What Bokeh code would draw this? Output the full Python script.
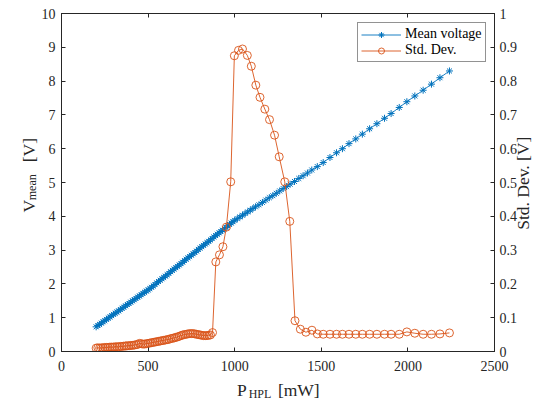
import math
from bokeh.plotting import figure
from bokeh.models import (Range1d, LinearAxis, FixedTicker, Legend, LegendItem)
from bokeh.embed import file_html
from bokeh.resources import INLINE

# ---- data ----
p_mean = [200, 210, 220, 230, 240, 250, 260, 270, 280, 290, 300, 310, 320, 330, 340, 350,
          360, 370, 380, 390, 400, 410, 420, 430, 440, 450, 460, 470, 480, 490, 500, 510,
          520, 530, 540, 550, 560, 570, 580, 590, 600, 610, 620, 630, 640, 650, 660, 670,
          680, 690, 700, 710, 720, 730, 740, 750, 760, 770, 780, 790, 800, 810, 820, 830,
          840, 850, 860, 870, 880, 890, 900, 910, 920, 930, 940, 950, 960, 970, 980, 990,
          1000, 1015, 1030, 1045, 1060, 1075, 1090, 1105, 1120, 1140, 1160, 1180, 1200,
          1220, 1240, 1260, 1280, 1300, 1320, 1345, 1370, 1395, 1420, 1445, 1477, 1511,
          1550, 1588, 1622, 1660, 1699, 1737, 1779, 1821, 1865, 1903, 1950, 1994, 2040,
          2088, 2136, 2185, 2240]
v_mean = [0.73, 0.77, 0.80, 0.84, 0.88, 0.91, 0.95, 0.99, 1.02, 1.06, 1.10, 1.13, 1.17, 1.20,
          1.24, 1.28, 1.31, 1.35, 1.39, 1.42, 1.46, 1.50, 1.53, 1.57, 1.61, 1.64, 1.68, 1.72,
          1.75, 1.79, 1.82, 1.86, 1.90, 1.94, 1.98, 2.03, 2.07, 2.11, 2.15, 2.19, 2.23, 2.27,
          2.31, 2.36, 2.40, 2.44, 2.48, 2.52, 2.56, 2.60, 2.64, 2.69, 2.73, 2.77, 2.81, 2.85,
          2.89, 2.93, 2.97, 3.02, 3.06, 3.10, 3.14, 3.18, 3.22, 3.26, 3.30, 3.34, 3.39, 3.43,
          3.47, 3.51, 3.55, 3.59, 3.63, 3.67, 3.72, 3.76, 3.80, 3.84, 3.88, 3.93, 3.98, 4.03,
          4.08, 4.13, 4.18, 4.23, 4.28, 4.34, 4.41, 4.48, 4.55, 4.61, 4.68, 4.75, 4.82, 4.88,
          4.95, 5.03, 5.12, 5.20, 5.28, 5.37, 5.47, 5.59, 5.74, 5.88, 6.00, 6.15, 6.29, 6.43,
          6.59, 6.74, 6.90, 7.04, 7.22, 7.39, 7.56, 7.73, 7.91, 8.10, 8.30]

p_std = [200, 210, 220, 230, 240, 250, 260, 270, 280, 290, 300, 310, 320, 330, 340, 350,
         360, 370, 380, 390, 400, 410, 420, 430, 440, 450, 460, 470, 480, 490, 500, 510,
         520, 530, 540, 550, 560, 570, 580, 590, 600, 610, 620, 630, 640, 650, 660, 670,
         680, 690, 700, 710, 720, 730, 740, 750, 760, 770, 780, 790, 800, 810, 820, 830,
         840, 850, 860, 872, 891, 912, 932, 952, 977, 998, 1022, 1045, 1073, 1096, 1122,
         1146, 1174, 1201, 1230, 1257, 1289, 1318, 1348, 1379, 1411, 1446, 1477, 1511,
         1550, 1588, 1622, 1660, 1699, 1737, 1779, 1821, 1865, 1903, 1950, 1994, 2040,
         2088, 2136, 2185, 2240]
v_std = [0.010, 0.011, 0.010, 0.011, 0.011, 0.012, 0.012, 0.012, 0.013, 0.013, 0.013, 0.014,
         0.014, 0.014, 0.015, 0.015, 0.016, 0.016, 0.017, 0.017, 0.018, 0.018, 0.019, 0.020,
         0.021, 0.024, 0.023, 0.022, 0.022, 0.023, 0.024, 0.025, 0.026, 0.027, 0.028, 0.029,
         0.030, 0.031, 0.032, 0.033, 0.034, 0.035, 0.036, 0.038, 0.039, 0.040, 0.042, 0.043,
         0.045, 0.047, 0.049, 0.050, 0.051, 0.052, 0.053, 0.053, 0.053, 0.052, 0.051, 0.050,
         0.049, 0.048, 0.047, 0.047, 0.047, 0.048, 0.049, 0.056, 0.265, 0.286, 0.310, 0.368,
         0.502, 0.875, 0.891, 0.895, 0.876, 0.844, 0.788, 0.752, 0.717, 0.686, 0.640, 0.576,
         0.502, 0.385, 0.091, 0.066, 0.057, 0.063, 0.052, 0.051, 0.051, 0.051, 0.051, 0.051,
         0.051, 0.051, 0.051, 0.051, 0.051, 0.051, 0.051, 0.058, 0.054, 0.051, 0.051, 0.052,
         0.055, 0.055]

x_ticks = [0, 500, 1000, 1500, 2000, 2500]
y_ticks = [0, 1, 2, 3, 4, 5, 6, 7, 8, 9, 10]
y2_ticks = [0, 0.1, 0.2, 0.3, 0.4, 0.5, 0.6, 0.7, 0.8, 0.9, 1.0]
y2_labels = ["0", "0.1", "0.2", "0.3", "0.4", "0.5", "0.6", "0.7", "0.8", "0.9", "1"]

# axis titles, split where the subscripts are
x_title = ["P", "[mW]"]
x_title_sub = ["HPL"]
y_title = ["V", "[V]"]
y_title_sub = ["mean"]
y2_title = ["Std. Dev. [V]"]

BLUE = "#0072BD"
ORANGE = "#D95319"
AX = "#262626"
FONT = "Liberation Serif"
TICK_FS = "14px"
TITLE_FS = "17.5px"
SUB_FS = "12px"

p = figure(width=546, height=403, output_backend="svg", toolbar_location=None,
           x_range=Range1d(0, 2500), y_range=Range1d(0, 10),
           min_border_left=61, min_border_right=49, min_border_top=13, min_border_bottom=52)
p.extra_y_ranges = {"std": Range1d(0, 1)}
p.xgrid.visible = False
p.ygrid.visible = False
p.outline_line_color = AX
p.background_fill_color = "white"
p.border_fill_color = "white"


def style_axis(ax, ticks):
    ax.ticker = FixedTicker(ticks=ticks)
    ax.axis_line_color = AX
    ax.major_tick_line_color = AX
    ax.major_tick_in = 4
    ax.major_tick_out = 0
    ax.minor_tick_line_color = None
    ax.major_label_text_font = FONT
    ax.major_label_text_font_size = TICK_FS
    ax.major_label_text_color = AX
    ax.axis_label = None


def title_axis(ax, ticks, texts, size, standoff, orient=None):
    ax.ticker = FixedTicker(ticks=ticks)
    ax.major_label_overrides = {t: s for t, s in zip(ticks, texts)}
    ax.axis_line_color = None
    ax.major_tick_line_color = None
    ax.minor_tick_line_color = None
    ax.major_tick_in = 0
    ax.major_tick_out = 0
    ax.major_label_text_font = FONT
    ax.major_label_text_font_size = size
    ax.major_label_text_color = AX
    ax.major_label_standoff = standoff
    if orient is not None:
        ax.major_label_orientation = orient
    ax.axis_label = None


style_axis(p.xaxis[0], x_ticks)
p.xaxis[0].major_label_standoff = 9
style_axis(p.yaxis[0], y_ticks)
p.yaxis[0].major_label_standoff = 6

ax_r = LinearAxis(y_range_name="std")
style_axis(ax_r, y2_ticks)
ax_r.major_label_overrides = {t: l for t, l in zip(y2_ticks, y2_labels)}
ax_r.major_label_standoff = 5
p.add_layout(ax_r, "right")

ax_t = LinearAxis()
style_axis(ax_t, x_ticks)
ax_t.major_label_text_color = None
ax_t.major_label_standoff = 0
p.add_layout(ax_t, "above")

# axis titles as label-only axes (subscript parts on their own axis)
xt = LinearAxis()
title_axis(xt, [1041, 1370], x_title, TITLE_FS, 6)
p.add_layout(xt, "below")
xs = LinearAxis()
title_axis(xs, [1146], x_title_sub, SUB_FS, -16)
p.add_layout(xs, "below")

ys = LinearAxis()
title_axis(ys, [4.86], y_title_sub, SUB_FS, -1, "parallel")
p.add_layout(ys, "left")
yt = LinearAxis()
title_axis(yt, [4.30, 5.96], y_title, TITLE_FS, -17, "parallel")
p.add_layout(yt, "left")

rt = LinearAxis(y_range_name="std")
title_axis(rt, [0.36], y2_title, TITLE_FS, 3, math.pi / 2)
rt.major_label_text_line_height = 1.0
p.add_layout(rt, "right")

# ---- glyphs ----
l1 = p.line(p_mean, v_mean, line_color=BLUE, line_width=0.9)
s1 = p.scatter(p_mean, v_mean, marker="asterisk", size=7, line_color=BLUE, line_width=1)
l2 = p.line(p_std, v_std, line_color=ORANGE, line_width=0.9, y_range_name="std")
s2 = p.scatter(p_std, v_std, marker="circle", size=8, line_color=ORANGE, fill_color=None,
               line_width=0.9, y_range_name="std")

legend = Legend(items=[LegendItem(label="Mean voltage", renderers=[l1, s1]),
                       LegendItem(label="Std. Dev.", renderers=[l2, s2])],
                location=(296, 289), orientation="vertical",
                padding=3, spacing=0, margin=0,
                glyph_width=40, glyph_height=15, label_height=15, label_standoff=4,
                label_text_font=FONT, label_text_font_size="14px", label_text_color="black",
                border_line_color=AX, border_line_width=0.8,
                background_fill_color="white", background_fill_alpha=1)
p.add_layout(legend, "center")

open("out.html", "w").write(file_html(p, INLINE))
